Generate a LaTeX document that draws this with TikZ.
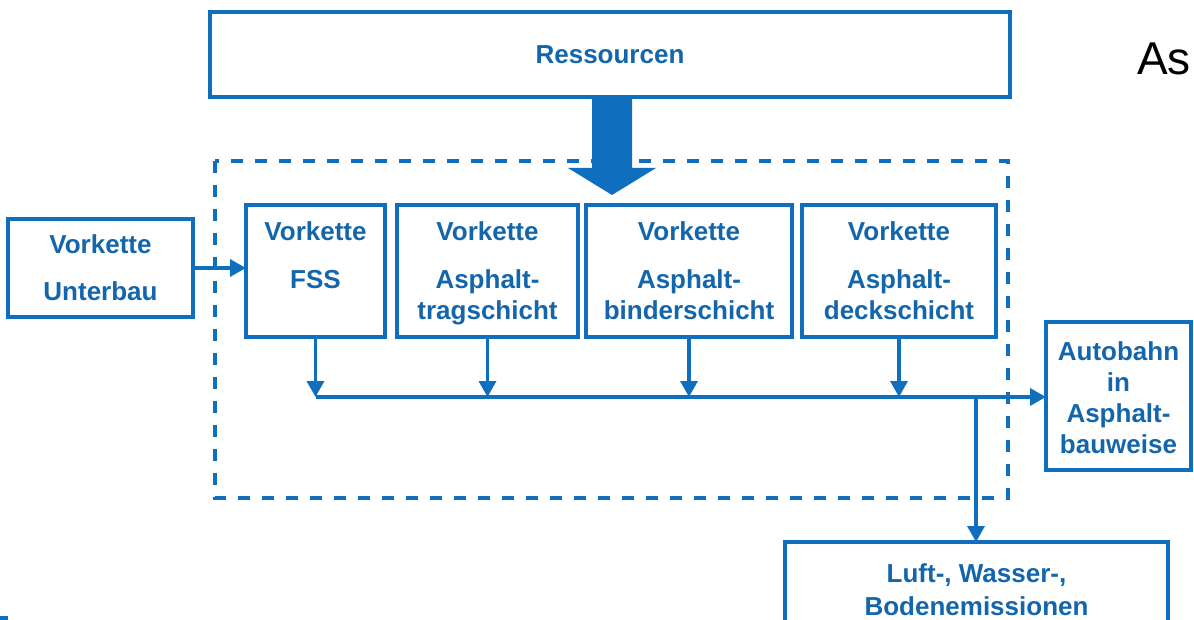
\documentclass[tikz,border=0pt]{standalone}
\usepackage{fontspec}
\setmainfont{Liberation Sans}
\usetikzlibrary{arrows.meta}
\definecolor{dblue}{RGB}{16,110,190}
\definecolor{tblue}{RGB}{20,102,172}

\begin{document}
\begin{tikzpicture}[x=1pt,y=-1pt,
  box/.style={draw=dblue, line width=4pt, inner sep=0pt, outer sep=0pt,
    text=tblue, font=\bfseries\fontsize{26}{31}\selectfont, align=center},
  lbl/.style={text=tblue, font=\bfseries\fontsize{26}{31}\selectfont,
    align=center, inner sep=0pt, anchor=north},
  flow/.style={draw=dblue, line width=3.5pt, -{Triangle[length=16pt,width=17pt]}},
  frame/.style={draw=dblue, line width=4pt, dash pattern=on 12pt off 12pt},
]
\fill[white] (0,0) rectangle (1194,620);
\useasboundingbox (0,0) rectangle (1194,620);

% resources on top
\node[box, minimum width=800, minimum height=85] (res) at (610,54.5) {Ressourcen};

% system boundary
\draw[frame] (215,161) rectangle (1008,498);

% thick resource arrow into the system
\fill[dblue] (592,97) -- (632,97) -- (632,168) -- (656,168) -- (612,195)
  -- (568,168) -- (592,168) -- cycle;

% upstream chain outside the boundary
\node[box, minimum width=185, minimum height=98] (unter) at (100.5,268)
  {Vorkette\\[16pt]Unterbau};

% upstream chains inside the boundary
\node[box, minimum width=139, minimum height=131] (fss)    at (315.5,271) {};
\node[box, minimum width=181, minimum height=131] (trag)   at (487.5,271) {};
\node[box, minimum width=206, minimum height=131] (binder) at (689,271) {};
\node[box, minimum width=194, minimum height=131] (deck)   at (899,271) {};

\node[lbl] (fssT)    at (fss.north |- 0,221)    {Vorkette\\[17pt]FSS};
\node[lbl] (tragT)   at (trag.north |- 0,221)   {Vorkette\\[17pt]Asphalt-\\tragschicht};
\node[lbl] (binderT) at (binder.north |- 0,221) {Vorkette\\[17pt]Asphalt-\\binderschicht};
\node[lbl] (deckT)   at (deck.north |- 0,221)   {Vorkette\\[17pt]Asphalt-\\deckschicht};

% product and emissions
\node[box, minimum width=145, minimum height=148] (auto) at (1118.5,396) {};
\node[lbl] (autoT) at (auto.north |- 0,341) {Autobahn\\in\\Asphalt-\\bauweise};
\node[box, minimum width=383, minimum height=95] (emis) at (976.5,589.5)
  {Luft-, Wasser-,\\[2pt]Bodenemissionen};

% collecting line
\coordinate (busL) at (316,397);
\coordinate (split) at (976,397);

\draw[flow] (unter.east) -- (unter.east -| fss.west);
\foreach \b in {fss, trag, binder, deck}
  \draw[flow] (\b.south) -- (\b.south |- busL);
\draw[flow] (busL) -- (busL -| auto.west);
\draw[flow] (split) -- (split |- emis.north);

% heading fragment
\node[anchor=base west, inner sep=0pt, font=\fontsize{46}{50}\selectfont] (as) at (1137,75) {As};

% small mark in the lower left corner
\fill[dblue] (0,616) rectangle (8,620);
\end{tikzpicture}
\end{document}
